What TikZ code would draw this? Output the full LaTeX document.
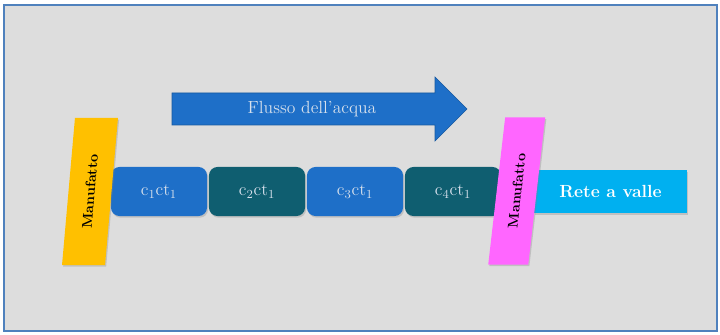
\documentclass[tikz,border=0pt]{standalone}
\usepackage{xcolor}
\usepackage{tikz}
\usetikzlibrary{arrows.meta, positioning, shadows}
\definecolor{panelgray}{RGB}{221,221,221}
\definecolor{frameblue}{RGB}{79,129,189}
\definecolor{tratblue}{RGB}{30,111,200}
\definecolor{tratteal}{RGB}{15,94,112}
\definecolor{retecyan}{RGB}{0,176,240}
\definecolor{manyellow}{RGB}{255,192,0}
\definecolor{manpink}{RGB}{255,102,255}
\definecolor{paletext}{RGB}{214,224,236}

\begin{document}
\begin{tikzpicture}[
        x=0.025cm, y=-0.025cm,
        soft/.style={drop shadow={opacity=0.3, shadow xshift=0.8pt, shadow yshift=-1.2pt}},
        tratto/.style={rectangle, rounded corners=6pt, minimum width=2.4cm, minimum height=1.225cm, inner sep=0pt, text=paletext, font=\fontsize{12.5}{14}\selectfont, soft},
        manufatto/.style={rectangle, minimum width=3.675cm, inner sep=0pt, font=\bfseries, text=black, soft}
    ]
        \useasboundingbox (0,0) rectangle (720,334);
        \draw[frameblue, line width=1.2pt, fill=panelgray] (4,5) rectangle (717,331);

        % freccia del flusso
        \fill[tratblue, draw=tratblue!80!black, line width=0.4pt]
            (172,93) -- (435,93) -- (435,77) -- (467,109) -- (435,141) -- (435,125) -- (172,125) -- cycle;
        \node[text=paletext, font=\fontsize{12.5}{14}\selectfont] (flusso) at (312,109) {Flusso dell'acqua};

        \node[tratto, fill=tratblue]  (c1) at (159,191.5) {c\textsubscript{1}ct\textsubscript{1}};
        \node[tratto, fill=tratteal]  (c2) at (257,191.5) {c\textsubscript{2}ct\textsubscript{1}};
        \node[tratto, fill=tratblue]  (c3) at (355,191.5) {c\textsubscript{3}ct\textsubscript{1}};
        \node[tratto, fill=tratteal]  (c4) at (453,191.5) {c\textsubscript{4}ct\textsubscript{1}};

        \node[rectangle, fill=retecyan, minimum width=3.825cm, minimum height=1.075cm, inner sep=0pt, text=white, font=\fontsize{12.5}{14}\selectfont\bfseries, soft]
            (rete) at (610.5,191.5) {Rete a valle};

        % manufatti at both ends
        \node[manufatto, fill=manyellow, minimum height=1.075cm, xslant=0.088, rotate=90] (monte) at (90,191.5) {Manufatto};
        \node[manufatto, fill=manpink,   minimum height=1.0cm,   xslant=0.115, rotate=90] (valle) at (516.7,191) {Manufatto};
    \end{tikzpicture}
\end{document}
